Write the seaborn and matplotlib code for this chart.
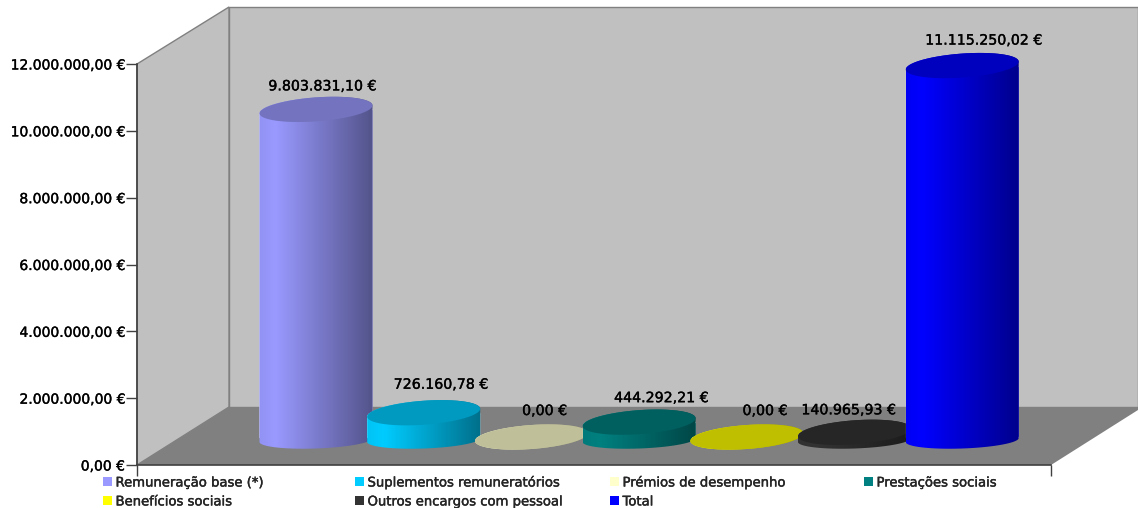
import numpy as np
import matplotlib
matplotlib.use("Agg")
import matplotlib.pyplot as plt
import matplotlib.patheffects as pe
import seaborn as sns
from matplotlib.patches import Polygon, Patch
from matplotlib.path import Path
from matplotlib.text import Text
from matplotlib.ticker import FuncFormatter
from matplotlib.transforms import IdentityTransform

categories = ["Remuneração base (*)", "Suplementos remuneratórios", "Prémios de desempenho",
              "Prestações sociais", "Benefícios sociais", "Outros encargos com pessoal", "Total"]
values = [9803831.10, 726160.78, 0.0, 444292.21, 0.0, 140965.93, 11115250.02]
colors = ["#9999FF", "#00CCFF", "#FFFFCC", "#008080", "#FFFF00", "#333333", "#0000FF"]
y_ticks = [0, 2000000, 4000000, 6000000, 8000000, 10000000, 12000000]

# label nudges in pixels, the original chart places them a bit unevenly
label_dx = [6, 17, 13, 22, 18, -6, 21]
label_dy = [23, 28, 26, 24, 26, 22, 25]

W, H = 1138, 508
RX, RY = 56.5, 12


def euro(v, pos=None):
    s = f"{v:,.2f}".replace(",", "#").replace(".", ",").replace("#", ".")
    return s + " €"


def px_poly(points, **kw):
    pts = [(x, H - y) for x, y in points]
    return Polygon(pts, closed=True, transform=IdentityTransform(), zorder=-1, **kw)


def arc(cx, cy, start, stop, ry=RY, rise=0.07):
    # the ellipses are sheared, not rotated
    t = np.linspace(start, stop, 60)
    x = RX * np.cos(t)
    return np.column_stack([cx + x, cy + ry * np.sin(t) + x * rise])


def shade(color):
    # bright a little left of the middle, dark on the right side
    pos = np.linspace(0, 1, 40)
    f = np.interp(pos, [0, 0.14, 1], [0.96, 1.0, 0.55])
    rgb = np.array(matplotlib.colors.to_rgb(color))
    return (f[:, None] * rgb)[None, :, :]


sns.set_style("white")
plt.rcParams["font.family"] = ["DejaVu Sans"]
fig = plt.figure(figsize=(W / 100, H / 100), dpi=100)

# walls and floor
fig.add_artist(px_poly([(229, 7), (1138, 7), (1138, 407), (229, 407)], fc="#C0C0C0", ec="#808080", lw=1))
fig.add_artist(px_poly([(137, 64), (229, 7), (229, 407), (137, 465)], fc="#C0C0C0", ec="#808080", lw=1))
fig.add_artist(px_poly([(137, 465), (229, 407), (1138, 407), (1138, 410), (1051, 465)], fc="#808080", ec="none"))

# front plane, carries the value axis
front = fig.add_axes([137 / W, (H - 465) / H, 914 / W, 401 / H])
front.patch.set_alpha(0)
front.set_ylim(0, 12000000)
front.set_xlim(0, 1)
front.set_yticks(y_ticks)
front.yaxis.set_major_formatter(FuncFormatter(euro))
front.set_xticks([0, 1])
front.set_xticklabels(["", ""])
front.tick_params(axis="both", length=8, width=1, color="#404040", labelsize=10, labelcolor="black",
                  left=True, bottom=True, pad=1)
for side in ["top", "right"]:
    front.spines[side].set_visible(False)
for side in ["left", "bottom"]:
    front.spines[side].set_color("#404040")
    front.spines[side].set_linewidth(1.2)

# bars sit halfway into the depth of the floor
ax = fig.add_axes([183 / W, (H - 437) / H, 914 / W, 401 / H])
ax.patch.set_alpha(0)
sns.barplot(x=categories, y=values, hue=categories, palette=colors, saturation=1, width=1.05,
            legend=False, ax=ax)
ax.set_xlim((183 - 316) / 107.7, (1097 - 316) / 107.7)
ax.set_ylim(0, 12000000)
ax.axis("off")

for i, (bar, v, c) in enumerate(zip(ax.patches, values, colors)):
    z = 3 + i * 2
    cx, y0 = ax.transData.transform((i, 0))
    _, y1 = ax.transData.transform((i, v))
    if v > 0:
        outline = np.vstack([arc(cx, y0 - 3, np.pi, 2 * np.pi, ry=8.5, rise=0.035), arc(cx, y1, 0, np.pi)])
    else:
        outline = arc(cx, y1, 0, 2 * np.pi)
    body = Path(np.vstack([outline, outline[:1]]), closed=True)
    bar.set_zorder(z)
    bar.set_clip_path(body, IdentityTransform())
    bar.set_clip_box(fig.bbox)
    img = ax.imshow(shade(c), extent=(bar.get_x(), bar.get_x() + bar.get_width(), -800000, v + 800000),
                    aspect="auto", interpolation="bilinear", zorder=z + 0.5)
    img.set_clip_box(fig.bbox)
    img.set_clip_path(body, IdentityTransform())
    top = np.array(matplotlib.colors.to_rgb(c)) * 0.75
    ax.add_patch(Polygon(arc(cx, y1, 0, 2 * np.pi), closed=True, fc=top, ec="none",
                         transform=IdentityTransform(), zorder=z + 1, clip_on=False))
    ax.annotate(euro(v), xy=(i, v), xytext=(label_dx[i], label_dy[i]), textcoords="offset pixels",
                ha="center", va="center", fontsize=10.2, color="black", zorder=30, annotation_clip=False)

ax.set_xlim((183 - 316) / 107.7, (1097 - 316) / 107.7)
ax.set_ylim(0, 12000000)

# legend, one block per column so the columns land where they should
col_x = [103, 355, 610, 864]
for col, x in enumerate(col_x):
    idx = [k for k in range(len(categories)) if k % 4 == col]
    handles = [Patch(fc=colors[k], ec="none", label=categories[k]) for k in idx]
    fig.legend(handles=handles, loc="upper left", bbox_to_anchor=(x / W, (H - 476.5) / H), frameon=False,
               fontsize=9.5, borderpad=0, borderaxespad=0, handlelength=0.65, handleheight=0.65,
               handletextpad=0.3, labelspacing=0.45)

# the source font is a heavy bitmap one, thicken the text a little
for t in fig.findobj(Text):
    t.set_path_effects([pe.withStroke(linewidth=0.25, foreground="black")])

fig.savefig("out.png", dpi=100)
